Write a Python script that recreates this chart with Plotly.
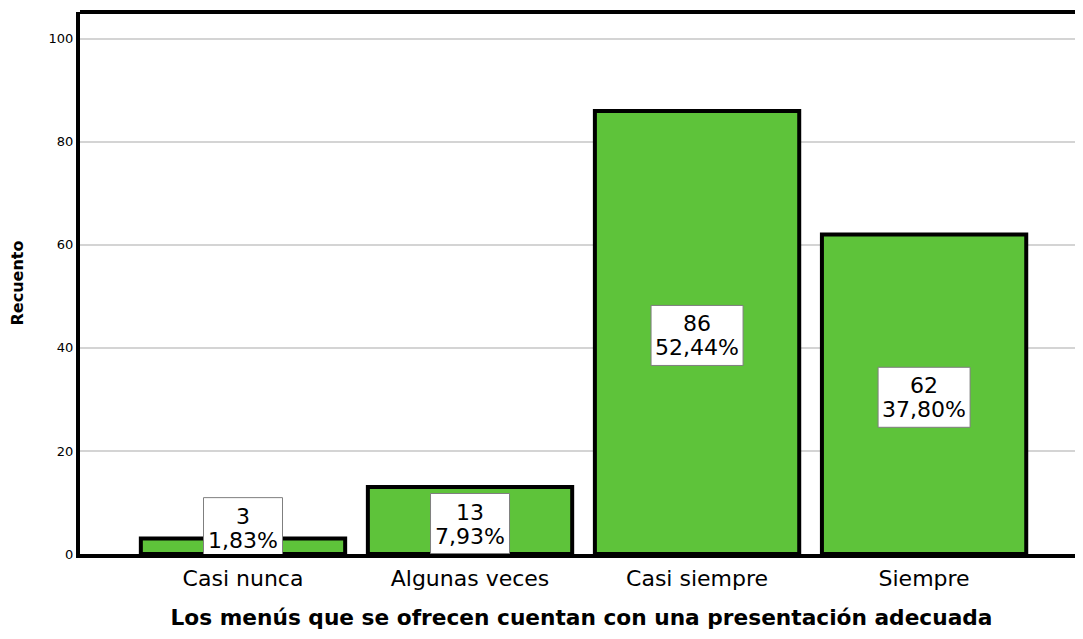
import plotly.graph_objects as go

categories = ["Casi nunca", "Algunas veces", "Casi siempre", "Siempre"]
counts = [3, 13, 86, 62]
percents = ["1,83%", "7,93%", "52,44%", "37,80%"]
y_ticks = [0, 20, 40, 60, 80, 100]

FONT = "DejaVu Sans, Verdana, sans-serif"
fig = go.Figure()
fig.add_trace(go.Bar(
    x=list(range(len(categories))), y=counts, width=0.9,
    marker=dict(color="#5EC33A", line=dict(color="black", width=4)),
    hoverinfo="skip",
))

min_center = 5.7  # label box center never lower than this (keeps box above axis)
for i, (c, p) in enumerate(zip(counts, percents)):
    yc = max(c / 2, min_center)
    half_w = (13 * len(p) + 14) / 2
    fig.add_shape(type="rect", xref="x", yref="y",
                  xsizemode="pixel", ysizemode="pixel",
                  xanchor=i, yanchor=yc,
                  x0=-half_w, x1=half_w, y0=-33, y1=27,
                  fillcolor="white", line=dict(color="#7f7f7f", width=1),
                  layer="above")
    fig.add_annotation(x=i, y=yc, yanchor="middle", xanchor="center", yshift=8.5,
                       text=str(c), showarrow=False,
                       font=dict(family=FONT, size=22, color="black"))
    fig.add_annotation(x=i, y=yc, yanchor="middle", xanchor="center", yshift=-15.5,
                       text=p, showarrow=False,
                       font=dict(family=FONT, size=22, color="black"))

fig.add_shape(type="line", xref="paper", yref="paper", x0=0, x1=1, y0=1, y1=1,
              line=dict(color="black", width=4))

fig.update_layout(
    width=1075, height=623,
    margin=dict(l=72, r=0, t=4, b=77),
    paper_bgcolor="white", plot_bgcolor="white",
    showlegend=False,
    font=dict(family=FONT, color="black"),
    xaxis=dict(
        range=[-0.718, 3.70], automargin=False,
        tickmode="array", tickvals=list(range(len(categories))), ticktext=categories,
        tickfont=dict(size=22, color="black"), ticklabelstandoff=2,
        showline=True, linecolor="black", linewidth=4,
        showgrid=False, ticks="", zeroline=False,
        title=dict(text="<b>Los menús que se ofrecen cuentan con una presentación adecuada</b>",
                   font=dict(size=21.7, color="black"), standoff=20),
    ),
    yaxis=dict(
        range=[0, 105.2], automargin=False,
        tickmode="array", tickvals=y_ticks,
        tickfont=dict(size=13, color="black"),
        showline=True, linecolor="black", linewidth=4,
        showgrid=True, gridcolor="#d4d4d4", gridwidth=1.5,
        ticks="", zeroline=False,
        title=dict(text="<b>Recuento</b>", font=dict(size=16, color="black"), standoff=30),
    ),
)
fig.write_html("out.html")
